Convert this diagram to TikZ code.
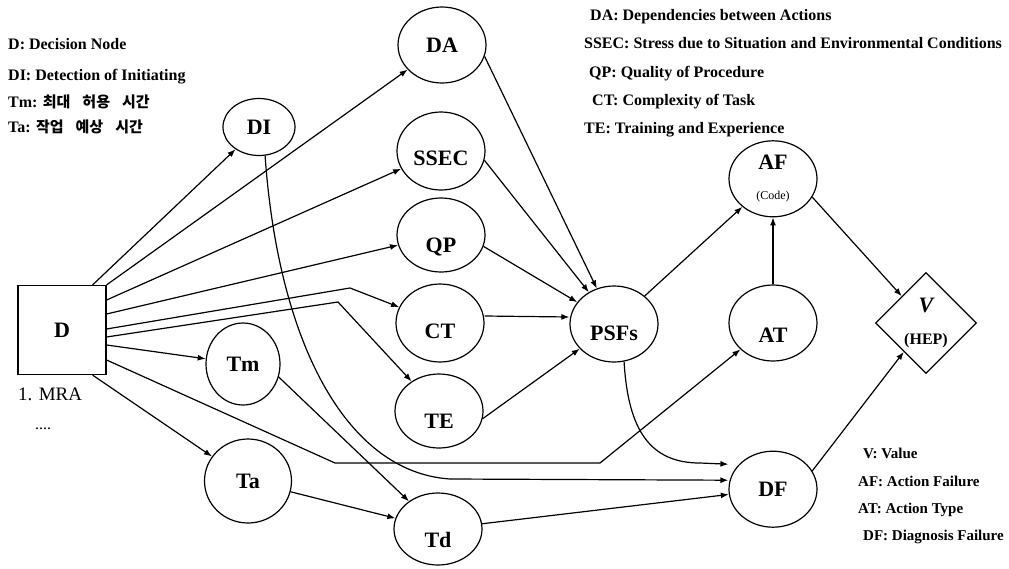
\documentclass[tikz,border=0pt]{standalone}
\usepackage{fontspec}
\setmainfont{Liberation Serif}
\newfontfamily\kofont{Noto Sans CJK KR}
\usetikzlibrary{arrows.meta,positioning,shapes.geometric}

\begin{document}
\begin{tikzpicture}[x=1pt, y=-1pt,
  var/.style={draw, ellipse, line width=1.2pt, inner sep=0pt,
              minimum width=88pt, minimum height=76pt,
              font=\fontsize{22}{24}\selectfont\bfseries},
  sunk/.style={text height=#1, text depth=0pt},
  sunk/.default=32pt,
  arrow/.style={-{Latex[length=8pt,width=6pt]}, line width=1.2pt},
  key/.style={anchor=base west, inner sep=0pt,
              font=\fontsize{16}{18}\selectfont\bfseries},
  keysm/.style={key, font=\fontsize{15}{17}\selectfont\bfseries},
]
\useasboundingbox (0,0) rectangle (1009,568);

% --- Decision node ---
\node[draw, line width=1.2pt, minimum width=88pt, minimum height=89pt,
      font=\fontsize{22}{24}\selectfont\bfseries] (D) at (62,330) {D};
\node[anchor=base west, inner sep=0pt, font=\fontsize{19}{21}\selectfont]
  (mra) at (18,400) {1. MRA};
\node[anchor=base west, inner sep=0pt, font=\fontsize{16}{18}\selectfont]
  (dots) at (35,429) {....};

% --- Time and detection nodes ---
\node[var, minimum width=72pt, minimum height=57pt] (DI) at (259,127) {DI};
\node[var, minimum width=74pt, minimum height=82pt] (Tm) at (243,364) {Tm};
\node[var, minimum width=87pt, minimum height=84pt] (Ta) at (248,481) {Ta};
\node[var, minimum height=72pt, sunk=36pt] (Td) at (438,529) {Td};

% --- Shaping factors ---
\node[var] (DA) at (442,45) {DA};
\node[var, minimum height=78pt, sunk=29pt] (SSEC) at (441,151) {SSEC};
\node[var, minimum height=74pt, sunk=34pt] (QP) at (441,235) {QP};
\node[var, minimum height=78pt, sunk=31pt] (CT) at (440,323) {CT};
\node[var, minimum height=74pt, sunk=34pt] (TE) at (439,411) {TE};
\node[var, sunk=33pt] (PSFs) at (614,324) {PSFs};

% --- Failure nodes ---
\node[var, sunk=38pt] (AT) at (773,323) {AT};
\node[var, above=67pt of AT, align=center]
  (AF) {AF\\[6pt]{\fontsize{12}{14}\selectfont\mdseries (Code)}};
\node[var, below=89pt of AT] (DF) {DF};
\node[draw, diamond, line width=1.2pt, inner sep=0pt, minimum width=101pt,
      minimum height=101pt, align=center,
      font=\fontsize{16}{18}\selectfont\bfseries] (V) at (926,323)
  {{\fontsize{22}{24}\selectfont\itshape V}\\[14pt](HEP)};

% --- Decision node fan-out ---
\draw[arrow] ([xshift=-14pt]D.north east) -- (DI);
\draw[arrow] (D.north east) -- (DA);
\draw[arrow] ([yshift=30pt]D.east) -- (SSEC);
\draw[arrow] ([yshift=16pt]D.east) -- (QP);
\draw[arrow] ([yshift=1pt]D.east) -- (350,288) -- (CT);
\draw[arrow] ([yshift=-7pt]D.east) -- (338,302) -- (TE);
\draw[arrow] ([yshift=-15pt]D.east) -- (Tm);
\draw[arrow] ([yshift=-30pt]D.east) -- (335,463) -- (600,463) -- (AT);
\draw[arrow] ([xshift=-14pt]D.south east) -- (Ta);

% --- Timing ---
\draw[arrow] (Tm.-20) -- (Td);
\draw[arrow] (Ta) -- (Td);
\draw[arrow] (Td) -- (DF);
\draw[arrow] (DI.-78) .. controls (278,340) and (345,472) .. (450,479)
  -- ([yshift=9pt]DF.west);

% --- Into PSFs ---
\draw[arrow] (DA.-15) -- (PSFs);
\draw[arrow] (SSEC.-12) -- (PSFs);
\draw[arrow] (QP.-15) -- (PSFs);
\draw[arrow] ([yshift=7pt]CT.east) -- ([yshift=7pt]PSFs.west);
\draw[arrow] (TE.-10) -- (PSFs);

% --- Out to failures ---
\draw[arrow] (PSFs) -- (AF);
\draw[arrow] (PSFs.-75) .. controls (628,430) and (650,463) .. (700,463)
  -- ([yshift=25pt]DF.west);
\draw[arrow] (AT) -- (AF);
\draw[arrow] (AF.-25) -- (V);
\draw[arrow] (DF.25) -- (V);

% --- Legends ---
\node[key] (kD) at (8,49) {D: Decision Node};
\node[key] (kDI) at (8,80) {DI: Detection of Initiating};
\node[key] (kTm) at (8,107)
  {Tm: {\kofont\fontsize{15}{17}\selectfont
        최대\hspace{.8em}허용\hspace{.8em}시간}};
\node[key] (kTa) at (8,132)
  {Ta: {\kofont\fontsize{15}{17}\selectfont
        작업\hspace{.8em}예상\hspace{.8em}시간}};

\node[key] (kDA) at (590,20) {DA: Dependencies between Actions};
\node[key] (kSSEC) at (584,48)
  {SSEC: Stress due to Situation and Environmental Conditions};
\node[key] (kQP) at (589,77) {QP: Quality of Procedure};
\node[key] (kCT) at (592,105) {CT: Complexity of Task};
\node[key] (kTE) at (584,133) {TE: Training and Experience};

\node[keysm] (kV) at (863,458) {V: Value};
\node[keysm] (kAF) at (858,486) {AF: Action Failure};
\node[keysm] (kAT) at (858,513) {AT: Action Type};
\node[keysm] (kDF) at (863,540) {DF: Diagnosis Failure};
\end{tikzpicture}
\end{document}
